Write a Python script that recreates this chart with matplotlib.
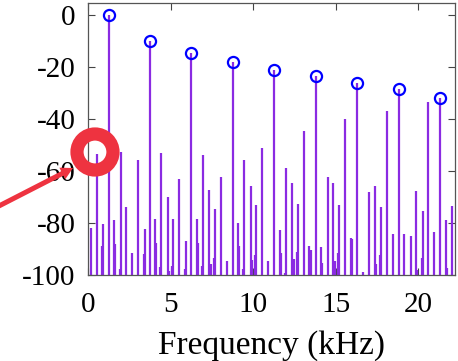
import numpy as np
import matplotlib
matplotlib.use("Agg")
from matplotlib import pyplot as plt
from matplotlib.patches import Circle, FancyArrow

plt.rcParams['font.family'] = ['Liberation Serif', 'DejaVu Serif']
plt.rcParams['axes.unicode_minus'] = False

# odd harmonics (marked with circles)
harm_freq = [1.25, 3.75, 6.25, 8.75, 11.25, 13.8, 16.3, 18.8, 21.3]
harm_db = [0, -10, -14.5, -18.2, -21.3, -23.6, -26.4, -28.7, -31.8]

# spurious / aliased components
spur_freq = [0.18, 0.55, 0.89, 1.56, 1.98, 2.28, 2.67, 3.01, 3.43, 4.08,
             4.42, 4.83, 5.17, 5.52, 5.92, 6.59, 6.99, 7.33, 7.70, 8.06,
             8.44, 9.09, 9.47, 9.84, 10.18, 10.55, 10.89, 11.6, 12.0, 12.36,
             12.73, 13.07, 13.39, 14.1, 14.5, 14.85, 15.2, 15.57, 15.94, 16.65,
             17.03, 17.37, 17.74, 18.1, 18.47, 19.15, 19.53, 19.88, 20.28, 20.6,
             20.95, 21.64, 22.04]
spur_db = [-82, -53.3, -80.4, -79, -52.8, -74, -91.4, -55.8, -82.4, -78.5,
           -53.2, -70, -78.5, -63, -86.8, -78.5, -54, -67.4, -74.7, -62.4,
           -94.5, -80, -55.8, -65.6, -73.2, -51, -94.5, -82.7, -58.7, -64.7,
           -72.7, -44.7, -88.8, -89.2, -62.2, -64.7, -73, -40.1, -85.9, -99,
           -68, -65.6, -73.7, -36.8, -84.4, -84.2, -85, -67.7, -75.4, -33.6,
           -83.3, -78.7, -73.3]

# small companion lines
side_freq = [0.83, 1.64, 1.92, 3.37, 4.14, 4.38, 4.93, 5.11, 5.86, 6.67,
             6.93, 7.44, 7.64, 9.15, 9.41, 9.92, 10.1, 11.68, 11.94, 12.44,
             12.65, 13.48, 14.18, 14.93, 15.13, 16.0, 17.45, 17.66, 19.94, 20.2,
             21.7]
side_db = [-89, -88, -97.7, -92, -87.5, -96.8, -98.5, -96.4, -97.7, -87.7,
           -96.5, -95.8, -93.5, -89, -97.7, -94.2, -92.2, -91.4, -99.2, -93.8,
           -91, -90.4, -95.3, -94.7, -91.4, -86, -95.9, -92.3, -98, -93.6,
           -97.2]

stem_col = '#8A2BE2'
floor = -100

fig = plt.figure(figsize=(4.58, 3.61), dpi=100)
ax = fig.add_axes([0.192, 0.238, 0.801, 0.755])

ax.vlines(side_freq, floor, side_db, color=stem_col, lw=1.6)
ax.vlines(spur_freq, floor, spur_db, color=stem_col, lw=1.6)
ax.vlines(harm_freq, floor, harm_db, color=stem_col, lw=1.6)
ax.plot(harm_freq, harm_db, 'o', mfc='none', mec='#0000FF', ms=8, mew=1.6)

ax.set_xlim(0, 22.2)
ax.set_ylim(-100, 4.7)
ax.set_xticks([0, 5, 10, 15, 20])
ax.set_yticks([0, -20, -40, -60, -80, -100])
ax.tick_params(direction='in', top=True, right=True, labelsize=21,
               length=5, width=0.8, color='#444444')
ax.tick_params(axis='y', pad=9)
ax.tick_params(axis='x', pad=12)
for s in ax.spines.values():
    s.set_color('#555555')
    s.set_linewidth(0.9)
ax.set_xlabel('Frequency (kHz)', fontsize=24, labelpad=9)

# red callout ring + arrow (pixel overlay)
ov = fig.add_axes([0, 0, 1, 1], facecolor='none')
ov.set_xlim(0, 458)
ov.set_ylim(361, 0)
ov.axis('off')
ov.add_patch(Circle((95, 152), 18, fill=False, ec='#EE3340', lw=9.5))
ov.add_patch(FancyArrow(-5, 208, 78, -40, width=5, head_width=13,
                        head_length=12, length_includes_head=True,
                        color='#EE3340', lw=0))

fig.savefig('out.png', dpi=100)
